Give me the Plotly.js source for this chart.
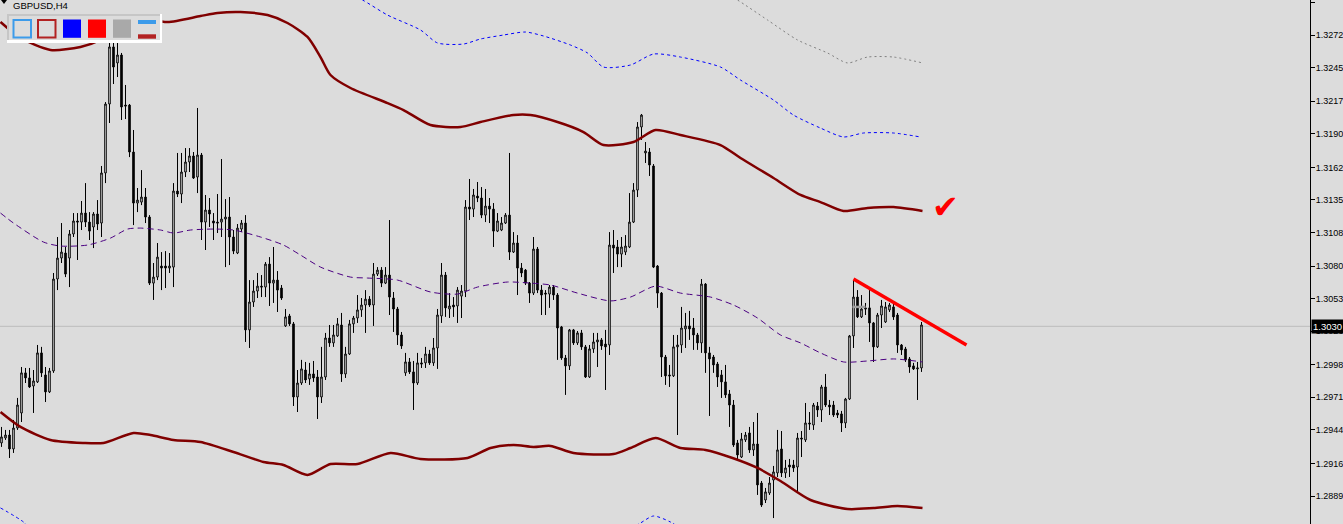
<!DOCTYPE html>
<html><head><meta charset="utf-8">
<script src="https://cdn.plot.ly/plotly-3.0.1.min.js"></script>
<style>html,body{margin:0;padding:0;background:#dcdcdc;overflow:hidden}</style>
</head><body><div id="chart" style="width:1343px;height:524px"></div>
<script>
const symbolTitle = 'GBPUSD,H4';
const priceLabels = ['1.3299','1.3272','1.3245','1.3217','1.3190','1.3162','1.3135','1.3108','1.3080','1.3053','1.3026','1.2998','1.2971','1.2944','1.2916','1.2889'];
const bidPrice = 1.3030;
const bidLabel = '1.3030';

const open = [1.29331,1.29372,1.29397,1.29281,1.29455,1.29580,1.29913,1.29871,1.29804,1.29838,
1.30079,1.29896,1.29755,1.29929,1.30693,1.30867,1.30909,1.30867,1.31067,1.31175,
1.31166,1.31241,1.31166,1.31125,1.31233,1.31158,1.31574,1.32147,1.32621,1.32488,
1.32554,1.32138,1.32138,1.31748,1.31324,1.31332,1.31374,1.31208,1.30659,1.30709,
1.30801,1.30801,1.30784,1.30792,1.31424,1.31399,1.31582,1.31665,1.31715,1.31540,
1.31723,1.31166,1.31266,1.31175,1.31166,1.31166,1.31191,1.31208,1.31042,1.30909,
1.31108,1.31158,1.30270,1.30502,1.30593,1.30634,1.30626,1.30817,1.30659,1.30684,
1.30618,1.30303,1.30386,1.30320,1.29713,1.29829,1.29937,1.29863,1.29904,1.29879,
1.29713,1.29879,1.30203,1.30162,1.30220,1.30311,1.29904,1.30070,1.30320,1.30369,
1.30436,1.30477,1.30526,1.30477,1.30734,1.30767,1.30659,1.30726,1.30535,1.30444,
1.30228,1.29913,1.30004,1.29921,1.29829,1.29996,1.29996,1.30070,1.29996,1.30120,
1.30386,1.30726,1.30444,1.30477,1.30469,1.30551,1.30593,1.31291,1.31274,1.31382,
1.31366,1.31224,1.31299,1.31274,1.31091,1.31100,1.31158,1.31224,1.30917,1.30992,
1.30784,1.30767,1.30659,1.30576,1.30942,1.30601,1.30576,1.30568,1.30626,1.30560,
1.30295,1.30037,1.29971,1.30270,1.30162,1.30245,1.30129,1.29879,1.30112,1.30170,
1.30187,1.30153,1.30145,1.30975,1.30959,1.30900,1.30917,1.30959,1.31166,1.31432,
1.31956,1.31740,1.31748,1.31632,1.30801,1.30576,1.30045,1.29896,1.29888,1.30129,
1.30145,1.30278,1.30303,1.30286,1.30228,1.30162,1.30651,1.30079,1.30045,1.29987,
1.29896,1.29838,1.29738,1.29646,1.29331,1.29214,1.29356,1.29414,1.29273,1.29322,
1.28998,1.28857,1.28915,1.29023,1.29082,1.29281,1.29082,1.29148,1.29148,1.29131,
1.29372,1.29356,1.29497,1.29480,1.29638,1.29605,1.29796,1.29646,1.29646,1.29580,
1.29572,1.29497,1.29696,1.30220,1.30543,1.30378,1.30453,1.30453,1.30328,1.30129,
1.30394,1.30336,1.30436,1.30461,1.30394,1.30145,1.30112,1.30029,1.29971,1.29946,
1.29954];

const high = [1.29464,1.29439,1.29439,1.29522,1.29705,1.29962,1.29954,1.29954,1.29937,1.30145,
1.30129,1.29962,1.29954,1.30743,1.31042,1.31158,1.30959,1.31100,1.31241,1.31241,
1.31341,1.31490,1.31249,1.31249,1.31349,1.31632,1.32163,1.32828,1.32654,1.32654,
1.32571,1.32305,1.32147,1.31931,1.31449,1.31598,1.31449,1.31224,1.30826,1.30992,
1.30917,1.30925,1.30909,1.31490,1.31740,1.31740,1.31781,1.31781,1.31748,1.32114,
1.31740,1.31391,1.31366,1.31241,1.31399,1.31690,1.31357,1.31374,1.31100,1.31150,
1.31183,1.31224,1.30684,1.30684,1.30743,1.30726,1.30834,1.30875,1.30959,1.30759,
1.30643,1.30444,1.30403,1.30336,1.29937,1.30021,1.30004,1.29996,1.30012,1.29937,
1.30129,1.30245,1.30311,1.30311,1.30369,1.30411,1.30129,1.30353,1.30386,1.30560,
1.30535,1.30601,1.30551,1.30826,1.30792,1.30792,1.30792,1.31183,1.30585,1.30461,
1.30253,1.30079,1.30037,1.30012,1.30079,1.30037,1.30129,1.30104,1.30203,1.30444,
1.30826,1.30751,1.30576,1.30543,1.30626,1.30643,1.31349,1.31524,1.31441,1.31499,
1.31457,1.31441,1.31366,1.31324,1.31241,1.31208,1.31241,1.31740,1.31083,1.31058,
1.30826,1.30776,1.30668,1.31042,1.30959,1.30643,1.30601,1.30643,1.30643,1.30576,
1.30303,1.30062,1.30278,1.30278,1.30261,1.30270,1.30145,1.30145,1.30245,1.30245,
1.30203,1.30270,1.31083,1.31100,1.31017,1.31042,1.31058,1.31407,1.31490,1.31997,
1.32064,1.31831,1.31781,1.31648,1.30809,1.30585,1.30062,1.29979,1.30228,1.30228,
1.30461,1.30411,1.30428,1.30369,1.30245,1.30693,1.30659,1.30129,1.30062,1.30004,
1.29937,1.29979,1.29771,1.29688,1.29356,1.29414,1.29422,1.29464,1.29505,1.29580,
1.29015,1.28957,1.29048,1.29140,1.29439,1.29430,1.29190,1.29198,1.29190,1.29414,
1.29430,1.29663,1.29588,1.29663,1.29671,1.29813,1.29904,1.29688,1.29680,1.29605,
1.29597,1.29705,1.30228,1.30684,1.30601,1.30560,1.30494,1.30618,1.30336,1.30411,
1.30519,1.30502,1.30494,1.30494,1.30411,1.30153,1.30129,1.30045,1.29996,1.30004,
1.30336];

const low = [1.29298,1.29356,1.29206,1.29248,1.29439,1.29505,1.29829,1.29788,1.29580,1.29829,
1.29879,1.29671,1.29746,1.29913,1.30601,1.30826,1.30709,1.30626,1.31042,1.30851,
1.31100,1.31125,1.31017,1.30950,1.31100,1.31042,1.31490,1.31989,1.32313,1.32371,
1.32014,1.32022,1.31706,1.31141,1.31249,1.31307,1.31158,1.30643,1.30519,1.30684,
1.30601,1.30618,1.30743,1.30626,1.31374,1.31324,1.31540,1.31582,1.31524,1.31407,
1.31017,1.30934,1.31125,1.31017,1.31075,1.31042,1.30792,1.30809,1.30900,1.30900,
1.31083,1.30170,1.30120,1.30461,1.30535,1.30543,1.30543,1.30469,1.30494,1.30419,
1.30519,1.30295,1.30303,1.29638,1.29588,1.29813,1.29829,1.29813,1.29838,1.29530,
1.29663,1.29854,1.30129,1.30129,1.30212,1.29838,1.29871,1.30062,1.30245,1.30328,
1.30378,1.30245,1.30461,1.30303,1.30718,1.30626,1.30651,1.30394,1.30253,1.30145,
1.30112,1.29888,1.29904,1.29605,1.29813,1.29954,1.29954,1.29979,1.29971,1.29946,
1.30328,1.30378,1.30369,1.30378,1.30328,1.30369,1.30543,1.31183,1.31208,1.31332,
1.31199,1.31166,1.31158,1.30959,1.31083,1.31091,1.31150,1.30851,1.30909,1.30560,
1.30709,1.30643,1.30494,1.30560,1.30576,1.30394,1.30394,1.30453,1.30519,1.30021,
1.30021,1.29730,1.29937,1.30145,1.30145,1.30104,1.29871,1.29871,1.30079,1.29962,
1.30104,1.29771,1.30062,1.30743,1.30792,1.30792,1.30892,1.30950,1.31158,1.31374,
1.31848,1.31657,1.31549,1.30784,1.30453,1.29879,1.29813,1.29796,1.29879,1.29397,
1.30079,1.30120,1.30187,1.30104,1.30104,1.30079,1.29913,1.29555,1.29913,1.29796,
1.29705,1.29705,1.29464,1.29298,1.29190,1.29206,1.29339,1.29248,1.29223,1.28899,
1.28799,1.28832,1.28899,1.28707,1.29048,1.29048,1.29040,1.29048,1.29090,1.28924,
1.29214,1.29339,1.29439,1.29439,1.29547,1.29505,1.29630,1.29563,1.29547,1.29538,
1.29422,1.29455,1.29688,1.30120,1.30369,1.30369,1.30394,1.30170,1.30004,1.30120,
1.30286,1.30328,1.30419,1.30353,1.30079,1.30062,1.30004,1.29913,1.29937,1.29688,
1.29921];

const close = [1.29381,1.29397,1.29281,1.29455,1.29646,1.29913,1.29871,1.29796,1.29846,1.30079,
1.29913,1.29755,1.29929,1.30693,1.30867,1.30917,1.30734,1.31067,1.31175,1.31166,
1.31241,1.31166,1.31091,1.31233,1.31150,1.31574,1.32147,1.32621,1.32454,1.32554,
1.32122,1.32130,1.31748,1.31324,1.31349,1.31374,1.31208,1.30659,1.30709,1.30875,
1.30784,1.30784,1.30801,1.31424,1.31399,1.31582,1.31665,1.31715,1.31532,1.31723,
1.31166,1.31266,1.31233,1.31158,1.31158,1.31191,1.31208,1.31042,1.30925,1.31116,
1.31158,1.30270,1.30502,1.30593,1.30634,1.30626,1.30817,1.30659,1.30684,1.30601,
1.30535,1.30378,1.30320,1.29713,1.29829,1.29946,1.29854,1.29904,1.29871,1.29713,
1.29879,1.30203,1.30162,1.30228,1.30320,1.29904,1.30070,1.30320,1.30369,1.30436,
1.30477,1.30526,1.30477,1.30734,1.30767,1.30659,1.30726,1.30543,1.30444,1.30228,
1.30137,1.30004,1.29921,1.29829,1.29996,1.29987,1.30070,1.29996,1.30120,1.30394,
1.30726,1.30453,1.30469,1.30461,1.30601,1.30593,1.31291,1.31274,1.31391,1.31366,
1.31224,1.31299,1.31274,1.31091,1.31175,1.31158,1.31224,1.30917,1.30992,1.30784,
1.30743,1.30659,1.30576,1.30942,1.30601,1.30560,1.30568,1.30626,1.30560,1.30286,
1.30037,1.29971,1.30270,1.30162,1.30245,1.30129,1.29879,1.30112,1.30170,1.30187,
1.30137,1.30129,1.30975,1.30950,1.30900,1.30959,1.30967,1.31166,1.31432,1.31956,
1.32055,1.31756,1.31640,1.30792,1.30576,1.30045,1.29888,1.29888,1.30129,1.30145,
1.30286,1.30303,1.30278,1.30228,1.30162,1.30651,1.30079,1.30029,1.29979,1.29879,
1.29838,1.29730,1.29646,1.29314,1.29231,1.29364,1.29397,1.29273,1.29322,1.28982,
1.28815,1.28924,1.28998,1.29090,1.29273,1.29082,1.29123,1.29131,1.29123,1.29372,
1.29364,1.29497,1.29489,1.29646,1.29605,1.29796,1.29646,1.29630,1.29563,1.29563,
1.29497,1.29696,1.30220,1.30543,1.30378,1.30444,1.30444,1.30328,1.30129,1.30394,
1.30469,1.30461,1.30477,1.30378,1.30145,1.30104,1.30021,1.29962,1.29946,1.29954,
1.30311];

const bars = open.map((_, i) => i);

// Envelope / band lines (bar index, price)
const upperX = [-0.25,4.75,12.25,19.75,24.75,27.25,33,41.5,49.75,54,59.75,66.5,71.5,76.5,79.75,82.25,87.25,96.5,100.5,107.25,114.75,119.75,128,132.25,139,145.5,150.5,158,163.5,169.75,179.75,184.75,193,199.75,204.75,210.5,216.5,223,230.25];
const upperY = [1.32828,1.32695,1.32596,1.32621,1.32679,1.32737,1.32861,1.32828,1.32878,1.32903,1.32911,1.32886,1.32820,1.32704,1.32537,1.32388,1.32280,1.32155,1.32097,1.31972,1.31956,1.31997,1.32055,1.32055,1.31997,1.31914,1.31806,1.31831,1.31931,1.31889,1.31806,1.31698,1.31532,1.31391,1.31332,1.31258,1.31283,1.31291,1.31258];
const lowerX = [-0.25,4.75,12.25,20.5,25.5,33,37.25,43,49.75,58,65.5,70.5,76.5,82.25,89,97.25,104.75,116.5,122.25,128,133,137.25,143,153,157.25,163.5,169.75,176,182.75,189,194.75,202.25,211.5,218,224,230.25];
const lowerY = [1.29588,1.29464,1.29356,1.29331,1.29331,1.29414,1.29397,1.29356,1.29339,1.29256,1.29173,1.29148,1.29065,1.29156,1.29156,1.29248,1.29198,1.29206,1.29289,1.29314,1.29298,1.29306,1.29248,1.29239,1.29289,1.29372,1.29289,1.29273,1.29206,1.29123,1.29015,1.28857,1.28782,1.28790,1.28807,1.28790];
const midX = [-0.25,3,10.5,14.75,21.5,27.25,31.5,34.75,39.75,43,47.25,53,58,64.75,70.5,74.75,79.75,87.25,91.5,99,107.25,114,119,126.5,132.25,137.25,144,152.25,157.25,163.5,169.75,177.25,183,189,194.75,199.75,204.75,210.5,216.5,223,230.25];
const midY = [1.31241,1.31158,1.31000,1.30967,1.30975,1.31033,1.31108,1.31116,1.31100,1.31075,1.31100,1.31108,1.31100,1.31042,1.30975,1.30892,1.30792,1.30709,1.30701,1.30684,1.30585,1.30568,1.30626,1.30668,1.30659,1.30643,1.30576,1.30511,1.30543,1.30634,1.30576,1.30543,1.30477,1.30369,1.30228,1.30162,1.30079,1.30004,1.30012,1.30029,1.30004];
const blueUpX = [84.75,90.25,96.5,104.75,109,115.5,119.75,125.5,131,135.5,142.25,146.5,150.5,157.25,163,169.75,179.75,184.75,193,198,204.75,210.5,215.5,223,229.75];
const blueUpY = [1.33094,1.33011,1.32886,1.32762,1.32654,1.32645,1.32687,1.32720,1.32745,1.32712,1.32637,1.32571,1.32454,1.32471,1.32562,1.32537,1.32454,1.32346,1.32180,1.32055,1.31947,1.31873,1.31906,1.31906,1.31873];
const blueLowX = [-0.25,5.5,8.5,null,154.75,159.75,163,167.25,171];
const blueLowY = [1.28791,1.28674,1.28566,null,1.28566,1.28666,1.28724,1.28674,1.28591];
const greyX = [179.75,184,191.5,199,206.5,211.5,216.5,223,230.25];
const greyY = [1.33094,1.33011,1.32845,1.32679,1.32571,1.32488,1.32537,1.32537,1.32488];
const trendX = [213,241.25];
const trendY = [1.30693,1.30145];
const markX = [212.75,216];
const markY = [1.30461,1.30461];
const checkX = 236;
const checkY = 1.31291;

// ---- layout helpers (pixel -> paper) ----
const W = 1343, H = 524, R = 33, PW = W - R;
const px = x => x / PW;
const py = y => 1 - y / H;

const bandLine = (x, y, color, width, dash) => ({
  type: 'scatter', mode: 'lines', x, y, hoverinfo: 'skip', connectgaps: false,
  line: {color, width, dash: dash || 'solid', shape: 'spline', smoothing: 0.7}
});

// legend panel background sits above indicators but below candles
const panelX = [(7-1)/4, (162-1)/4, (162-1)/4, (7-1)/4, (7-1)/4];
const panelY = [1.32895, 1.32895, 1.32654, 1.32654, 1.32895];

const traces = [
  bandLine(greyX, greyY, '#808080', 1, '2px,3px'),
  bandLine(blueUpX, blueUpY, '#0000ff', 1, '3px,3px'),
  bandLine(blueLowX, blueLowY, '#0000ff', 1, '3px,3px'),
  bandLine(upperX, upperY, '#800000', 2.5),
  bandLine(lowerX, lowerY, '#800000', 2.5),
  bandLine(midX, midY, '#4b0082', 1, '6px,4px'),
  {type:'scatter', mode:'lines', x: panelX, y: panelY, fill:'toself', fillcolor:'#dcdcdc', line:{width:0, color:'rgba(0,0,0,0)'}, hoverinfo:'skip'},
  {type:'scatter', mode:'lines', x: markX, y: markY, line:{color:'#a0a0a0', width:2.5}, hoverinfo:'skip'},
  {
    type: 'candlestick', x: bars, open, high, low, close, whiskerwidth: 0,
    increasing: {line: {color: '#000000', width: 1}, fillcolor: '#ffffff'},
    decreasing: {line: {color: '#000000', width: 1}, fillcolor: '#000000'},
    hoverinfo: 'skip'
  },
  {type:'scatter', mode:'lines', x: trendX, y: trendY, line:{color:'#ff0000', width:3.5}, hoverinfo:'skip'}
];

const shapes = [
  {type:'line', xref:'paper', yref:'y', x0:0, x1:1, y0:bidPrice, y1:bidPrice, line:{color:'#bcbcbc', width:1}, layer:'below'},
  // legend panel borders
  {type:'line', xref:'paper', yref:'paper', x0:px(7), x1:px(162), y0:py(15), y1:py(15), line:{color:'#c6c6c6', width:2}, layer:'above'},
  {type:'line', xref:'paper', yref:'paper', x0:px(8), x1:px(8), y0:py(14), y1:py(43), line:{color:'#c6c6c6', width:2}, layer:'above'},
  {type:'line', xref:'paper', yref:'paper', x0:px(7), x1:px(162), y0:py(41.5), y1:py(41.5), line:{color:'#ffffff', width:3}, layer:'above'},
  {type:'line', xref:'paper', yref:'paper', x0:px(161), x1:px(161), y0:py(14), y1:py(43), line:{color:'#ffffff', width:2}, layer:'above'},
  // legend swatches
  {type:'rect', xref:'paper', yref:'paper', x0:px(13.5), x1:px(31), y0:py(20), y1:py(37.5), line:{color:'#3c9bea', width:2}, fillcolor:'rgba(0,0,0,0)', layer:'above'},
  {type:'rect', xref:'paper', yref:'paper', x0:px(38), x1:px(55.5), y0:py(20), y1:py(37.5), line:{color:'#b22222', width:2}, fillcolor:'rgba(0,0,0,0)', layer:'above'},
  {type:'rect', xref:'paper', yref:'paper', x0:px(63), x1:px(81), y0:py(19.5), y1:py(37.8), line:{width:0}, fillcolor:'#0000ff', layer:'above'},
  {type:'rect', xref:'paper', yref:'paper', x0:px(88), x1:px(106), y0:py(19.5), y1:py(37.8), line:{width:0}, fillcolor:'#ff0000', layer:'above'},
  {type:'rect', xref:'paper', yref:'paper', x0:px(113), x1:px(131), y0:py(19.5), y1:py(37.8), line:{width:0}, fillcolor:'#a9a9a9', layer:'above'},
  {type:'rect', xref:'paper', yref:'paper', x0:px(138), x1:px(156), y0:py(20), y1:py(24), line:{width:0}, fillcolor:'#3c9bea', layer:'above'},
  {type:'rect', xref:'paper', yref:'paper', x0:px(138), x1:px(156), y0:py(34.3), y1:py(38.7), line:{width:0}, fillcolor:'#b22222', layer:'above'},
  // title triangle
  {type:'path', xref:'paper', yref:'paper', path:`M ${px(1)} ${py(0)} L ${px(7)} ${py(0)} L ${px(4)} ${py(4)} Z`, fillcolor:'#000', line:{width:0}, layer:'above'}
];

const annotations = [
  {xref:'paper', yref:'paper', x:px(12), y:py(0), xanchor:'left', yanchor:'top', yshift:1, text:symbolTitle, showarrow:false,
   borderpad:0, font:{family:'Liberation Sans, Arial, sans-serif', size:9.5, color:'#000'}},
  {xref:'x', yref:'y', x:checkX, y:checkY, text:'✔', showarrow:false, xanchor:'center', yanchor:'middle',
   font:{family:'DejaVu Sans', size:32, color:'#ff0000'}},
  {xref:'paper', yref:'y', x:px(1311), y:bidPrice, xanchor:'left', yanchor:'middle', text:bidLabel, showarrow:false,
   bgcolor:'#000', borderpad:1, font:{family:'Liberation Sans, Arial, sans-serif', size:9.5, color:'#fff'}}
];

const layout = {
  width: W, height: H,
  margin: {l:0, r:R, t:0, b:0, pad:0},
  paper_bgcolor: '#dcdcdc', plot_bgcolor: '#dcdcdc',
  showlegend: false, boxgap: 0.45,
  xaxis: {range:[-0.375, 327.125], visible:false, rangeslider:{visible:false}, fixedrange:true},
  yaxis: {range:[1.286576, 1.33011], side:'right', showline:true, linecolor:'#000', linewidth:1,
    ticks:'outside', ticklen:4, tickcolor:'#000', tickwidth:1, tickmode:'array',
    tickvals: priceLabels.map(Number), ticktext: priceLabels, ticklabelstandoff: -1,
    tickfont:{family:'Liberation Sans, Arial, sans-serif', size:9, color:'#000'},
    showgrid:false, zeroline:false, fixedrange:true},
  shapes, annotations
};

Plotly.newPlot('chart', traces, layout, {staticPlot:true, displayModeBar:false});
</script>
</body></html>
